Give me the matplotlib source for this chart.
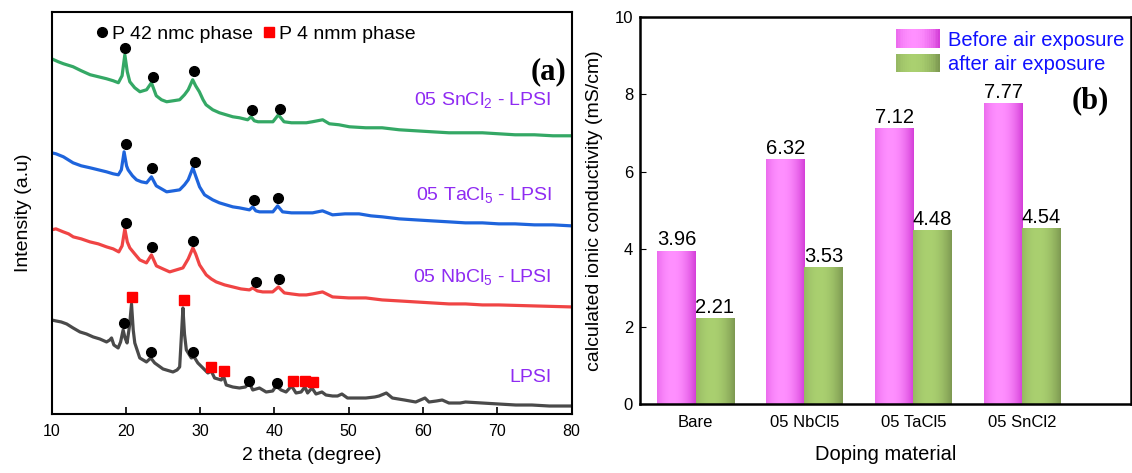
"""XRD patterns (a) and ionic conductivity before/after air exposure (b)."""

import matplotlib
matplotlib.use("Agg")
import matplotlib.pyplot as plt
import matplotlib.patches as mpatches
from matplotlib.lines import Line2D
from matplotlib.legend_handler import HandlerBase
import numpy as np

plt.rcParams["font.family"] = ["Liberation Sans", "DejaVu Sans"]
plt.rcParams["mathtext.fontset"] = "custom"
plt.rcParams["mathtext.rm"] = "Liberation Sans"
plt.rcParams["mathtext.it"] = "Liberation Sans:italic"

# ---------------- (a) XRD patterns, stacked (a.u.) ----------------
tt_sncl2 = [10.0, 10.9, 11.6, 12.9, 14.0, 15.2, 16.3, 17.4, 18.3, 19.0, 19.5, 19.87, 20.2, 20.54,
            21.2, 21.9, 22.8, 23.45, 24.1, 24.8, 25.5, 26.4, 27.25, 27.9, 28.4, 29.0, 29.4, 29.9,
            30.4, 30.8, 31.7, 32.6, 33.5, 34.4, 35.3, 36.4, 36.87, 37.3, 37.8, 38.8, 39.8, 40.54,
            41.3, 42.3, 43.4, 44.3, 45.1, 46.5, 47.4, 48.7, 50.1, 52.3, 54.5, 56.8, 59.0, 61.2,
            63.5, 65.7, 68.0, 70.2, 72.4, 75.0, 77.5, 80.0]
I_sncl2 = [355, 352, 350, 347, 343, 339, 337, 335, 333, 331, 338, 359, 342, 332,
           326, 322, 324, 331, 318, 314, 312, 313, 314, 319, 324, 334, 328, 322,
           314, 309, 304, 301, 299, 297, 296, 294, 297, 293, 292, 292, 292, 299,
           292, 291, 291, 291, 292, 294, 290, 289, 287, 286, 286, 284, 283, 282,
           281, 281, 281, 280, 279, 279, 278, 278]

tt_tacl5 = [10.0, 10.6, 11.6, 12.9, 14.0, 15.2, 16.3, 17.4, 18.3, 19.0, 19.4, 19.77, 20.1, 20.31,
            20.9, 21.44, 22.1, 22.8, 23.45, 24.1, 24.8, 25.5, 26.4, 27.25, 27.9, 28.4, 29.03, 29.4,
            29.93, 30.6, 31.7, 32.6, 33.5, 34.4, 35.3, 36.64, 37.09, 37.5, 38.0, 39.0, 39.8, 40.44,
            41.1, 42.3, 43.4, 44.3, 45.14, 46.48, 47.83, 49.5, 51.4, 53.0, 54.54, 56.8, 59.0, 61.2,
            63.5, 65.7, 68.0, 70.2, 72.4, 75.0, 77.5, 80.0]
I_tacl5 = [261, 260, 257, 251, 248, 246, 244, 242, 240, 239, 244, 262, 248, 244,
           238, 234, 232, 231, 237, 228, 225, 222, 223, 224, 229, 234, 246, 238,
           227, 219, 214, 211, 209, 207, 206, 204, 207, 203, 202, 202, 202, 208,
           202, 201, 201, 201, 201, 203, 199, 200, 200, 198, 197, 195, 194, 193,
           192, 191, 191, 190, 190, 189, 189, 188]

tt_nbcl5 = [10.0, 10.6, 11.58, 12.3, 12.93, 14.0, 15.17, 16.3, 17.41, 18.3, 19.06, 19.5, 19.87, 20.2,
            20.54, 21.2, 21.88, 22.78, 23.45, 24.12, 25.0, 25.91, 26.8, 27.69, 28.4, 29.03, 29.4,
            29.93, 30.83, 31.5, 32.17, 33.3, 34.4, 35.5, 36.64, 37.09, 37.7, 38.43, 39.77, 40.54,
            41.34, 42.3, 43.36, 44.3, 45.14, 46.48, 47.83, 50.0, 52.31, 54.5, 56.78, 59.0, 61.25,
            63.5, 65.73, 68.0, 70.2, 75.0, 80.0]
I_nbcl5 = [184, 185, 182, 180, 177, 175, 172, 170, 167, 165, 162, 168, 185, 172,
           166, 160, 154, 151, 159, 148, 145, 142, 144, 146, 155, 166, 160,
           149, 139, 135, 132, 129, 127, 125, 124, 126, 123, 122, 122, 127,
           121, 120, 119, 119, 120, 122, 117, 116, 116, 114, 113, 112, 111,
           110, 110, 109, 109, 108, 107]

tt_lpsi = [10.0, 10.6, 11.3, 12.04, 12.9, 13.83, 14.7, 15.61, 16.5, 17.41, 17.85, 18.08, 18.39,
           18.97, 19.3, 19.64, 19.9, 20.17, 20.5, 20.77, 21.0, 21.21, 21.88, 22.78, 23.36, 23.89,
           25.01, 26.35, 26.9, 27.25, 27.5, 27.69, 27.9, 28.15, 28.82, 29.2, 29.7, 30.38, 31.05,
           31.5, 31.95, 32.85, 33.15, 33.52, 34.4, 35.3, 36.1, 36.64, 37.09, 37.99, 38.89, 39.77,
           40.23, 40.9, 41.57, 42.32, 42.91, 43.6, 44.1, 44.47, 45.06, 45.6, 46.4, 46.94, 47.83,
           48.5, 49.09, 49.84, 51.0, 52.31, 53.5, 54.09, 55.07, 55.88, 57.5, 59.02, 60.27, 60.81,
           61.8, 62.59, 63.49, 65.0, 65.73, 67.96, 70.2, 72.5, 74.67, 77.0, 80.0]
I_lpsi = [94, 93, 92, 90, 86, 82, 80, 77, 75, 72, 74, 76, 69,
          66, 72, 84, 76, 71, 88, 110, 84, 71, 56, 52, 56, 51,
          45, 42, 44, 47, 80, 106, 80, 64, 56, 57, 51, 46, 41,
          43, 36, 34, 38, 29, 27, 26, 27, 31, 24, 26, 22, 23,
          28, 24, 22, 28, 21, 22, 27, 21, 26, 20, 22, 19, 18,
          18, 20, 16, 16, 16, 17, 18, 21, 16, 14, 12, 16, 12,
          13, 14, 11, 11, 12, 11, 10, 9, 9, 8, 8]

# P42/nmc peak markers (dots) and P4/nmm peak markers (squares)
dot_tt = [19.9, 23.6, 29.2, 37.0, 40.7,
          20.0, 23.5, 29.3, 37.2, 40.5,
          20.0, 23.5, 29.0, 37.5, 40.6,
          19.8, 23.4, 29.1, 36.6, 40.4]
dot_I = [366, 337, 343, 304, 305,
         270, 246, 252, 214, 216,
         191, 167, 173, 132, 135,
         91, 62, 62, 33, 31]
sq_tt = [20.8, 27.8, 31.5, 33.2, 42.5, 44.1, 45.2]
sq_I = [117, 114, 47, 43, 33, 33, 32]

pattern_names = ["05 SnCl$_2$ - LPSI", "05 TaCl$_5$ - LPSI", "05 NbCl$_5$ - LPSI", "LPSI"]

# ---------------- (b) ionic conductivity ----------------
dopants = ["Bare", "05 NbCl5", "05 TaCl5", "05 SnCl2"]
sigma_before = [3.96, 6.32, 7.12, 7.77]
sigma_after = [2.21, 3.53, 4.48, 4.54]

PINK = ("#d23ad6", "#ff90ff")
GREEN = ("#7b9650", "#aad070")
PURPLE = "#8f2bf2"


def shade(dark, light, n=48):
    d = np.array(matplotlib.colors.to_rgb(dark))
    l = np.array(matplotlib.colors.to_rgb(light))
    t = np.linspace(0, 1, n)
    w = np.clip(1 - ((t - 0.4) / 0.62) ** 2, 0, 1)
    return d + (l - d) * w[:, None]


class GradientHandler(HandlerBase):
    def __init__(self, colors):
        super().__init__()
        self.cols = shade(*colors, n=24)

    def create_artists(self, legend, orig_handle, xdescent, ydescent, width, height, fontsize, trans):
        n = len(self.cols)
        arts = []
        for i, c in enumerate(self.cols):
            r = mpatches.Rectangle((-xdescent + i * width / n, -ydescent), width / n * 1.05, height,
                                   facecolor=c, edgecolor="none", transform=trans)
            arts.append(r)
        return arts


fig = plt.figure(figsize=(11.32, 4.73), dpi=100, facecolor="white")
ax1 = fig.add_axes([0.0455, 0.1247, 0.4594, 0.8506])
ax2 = fig.add_axes([0.5654, 0.1459, 0.4337, 0.8188])

# (a)
for tt, I, col in zip([tt_sncl2, tt_tacl5, tt_nbcl5, tt_lpsi],
                      [I_sncl2, I_tacl5, I_nbcl5, I_lpsi],
                      ["#34a865", "#1e64dc", "#f04444", "#4a4a4a"]):
    ax1.plot(tt, I, color=col, lw=2.3)
ax1.plot(dot_tt, dot_I, "o", color="black", ms=7, ls="none")
ax1.plot(sq_tt, sq_I, "s", color="#ff0000", ms=6.5, ls="none")

for name, yf in zip(pattern_names, [0.78, 0.545, 0.34, 0.09]):
    ax1.text(0.962, yf, name, transform=ax1.transAxes, ha="right", va="center",
             color=PURPLE, fontsize=14)
ax1.text(0.955, 0.85, "(a)", transform=ax1.transAxes, ha="center", va="center",
         fontsize=22, fontweight="bold", family="Liberation Serif")

leg_a = [Line2D([], [], marker="o", color="black", ls="none", ms=7),
         Line2D([], [], marker="s", color="#ff0000", ls="none", ms=6.5)]
ax1.legend(leg_a, ["P 42 nmc phase", "P 4 nmm phase"], ncol=2, frameon=False, fontsize=14,
           loc="upper left", bbox_to_anchor=(0.088, 0.966), borderpad=0, borderaxespad=0,
           handlelength=0.5, handletextpad=0.25, columnspacing=0.6)

ax1.set_xlim(10, 80)
ax1.set_ylim(0, 402)
ax1.set_xticks(range(10, 81, 10))
ax1.set_yticks([])
ax1.tick_params(axis="x", direction="in", length=5, width=1.2, labelsize=11.5, pad=7)
ax1.set_xlabel("2 theta (degree)", fontsize=14, labelpad=6)
ax1.set_ylabel("Intensity (a.u)", fontsize=14, labelpad=14)
for s in ax1.spines.values():
    s.set_linewidth(1.5)

# (b)
x = np.arange(len(dopants))
width = 0.35
b1 = ax2.bar(x - width / 2, sigma_before, width, facecolor="none", edgecolor="none")
b2 = ax2.bar(x + width / 2, sigma_after, width, facecolor="none", edgecolor="none")
for bars, colors in [(b1, PINK), (b2, GREEN)]:
    img = shade(*colors)[None, :, :]
    for bar in bars:
        x0, y0 = bar.get_xy()
        im = ax2.imshow(img, extent=[x0, x0 + bar.get_width(), y0, y0 + bar.get_height()],
                        aspect="auto", interpolation="bilinear", zorder=2)
        im.set_clip_path(bar)
    ax2.bar_label(bars, fmt="%.2f", fontsize=14.5, padding=1)

ax2.set_xlim(-0.51, 4.0)
ax2.set_ylim(0, 10)
ax2.set_xticks(x)
ax2.set_xticklabels(dopants)
ax2.set_yticks([0, 2, 4, 6, 8, 10])
ax2.tick_params(axis="x", length=0, labelsize=12, pad=8)
ax2.tick_params(axis="y", direction="in", length=4, labelsize=12, pad=5)
ax2.set_xlabel("Doping material", fontsize=14.5, labelpad=11)
ax2.set_ylabel("calculated ionic conductivity (mS/cm)", fontsize=14, labelpad=8)
for s in ax2.spines.values():
    s.set_linewidth(1.8)

h1, h2 = mpatches.Patch(), mpatches.Patch()
ax2.legend([h1, h2], ["Before air exposure", "after air exposure"],
           handler_map={h1: GradientHandler(PINK), h2: GradientHandler(GREEN)},
           frameon=False, fontsize=14.5, labelcolor="#1010ff", loc="upper left",
           bbox_to_anchor=(0.521, 0.967), borderpad=0, borderaxespad=0,
           handlelength=2.2, handleheight=1.05, handletextpad=0.37, labelspacing=0.2)
ax2.text(0.918, 0.783, "(b)", transform=ax2.transAxes, ha="center", va="center",
         fontsize=22, fontweight="bold", family="Liberation Serif")

fig.savefig("out.png", dpi=100, facecolor="white")
